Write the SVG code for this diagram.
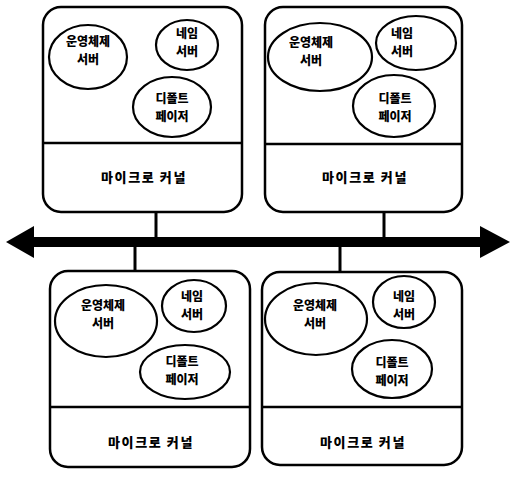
<svg xmlns="http://www.w3.org/2000/svg" width="512" height="477" viewBox="0 0 512 477">
<style>
.box{fill:none;stroke:#000;stroke-width:2.5}
.div{stroke:#000;stroke-width:2.5}
.el{fill:none;stroke:#000;stroke-width:2.2}
.t{font-family:"Noto Sans CJK KR","Noto Sans",sans-serif;font-size:12px;font-weight:900;text-anchor:middle;fill:#000}
.k{font-size:13px;letter-spacing:1.6px}
.c{stroke:#000;stroke-width:3;fill:none}
</style>
<rect width="512" height="477" fill="#fff"/>
<g id="connectors">
<line class="c" x1="156" y1="212" x2="156" y2="238"/>
<line class="c" x1="384" y1="212" x2="384" y2="238"/>
<line class="c" x1="135" y1="246" x2="135" y2="271"/>
<line class="c" x1="340" y1="246" x2="340" y2="272"/>
<line x1="30" y1="242" x2="482" y2="242" stroke="#000" stroke-width="10"/>
<polygon points="6,242 34,226 34,258" fill="#000"/>
<polygon points="510,242 480,226 480,258" fill="#000"/>
</g>
<g id="node-top-left">
<rect class="box" x="43" y="7" width="199" height="205" rx="18"/>
<line class="div" x1="43" y1="143" x2="242" y2="143"/>
<ellipse class="el" cx="88" cy="57" rx="39" ry="32"/>
<ellipse class="el" cx="187" cy="45" rx="31" ry="25"/>
<ellipse class="el" cx="172" cy="107" rx="39" ry="30"/>
<text class="t" x="88" y="46">운영체제</text>
<text class="t" x="88" y="64">서버</text>
<text class="t" x="187" y="38">네임</text>
<text class="t" x="187" y="56">서버</text>
<text class="t" x="172" y="103">디폴트</text>
<text class="t" x="172" y="121">페이저</text>
<text class="t k" x="144" y="182">마이크로 커널</text>
</g>
<g id="node-top-right">
<rect class="box" x="265" y="7" width="197" height="205" rx="18"/>
<line class="div" x1="265" y1="144" x2="462" y2="144"/>
<ellipse class="el" cx="320" cy="57" rx="52" ry="34"/>
<ellipse class="el" cx="416" cy="43" rx="40" ry="27"/>
<ellipse class="el" cx="394" cy="106" rx="41" ry="31"/>
<text class="t" x="311" y="47">운영체제</text>
<text class="t" x="311" y="65">서버</text>
<text class="t" x="402" y="38">네임</text>
<text class="t" x="402" y="56">서버</text>
<text class="t" x="395" y="103">디폴트</text>
<text class="t" x="395" y="121">페이저</text>
<text class="t k" x="365" y="182">마이크로 커널</text>
</g>
<g id="node-bottom-left">
<rect class="box" x="50" y="271" width="200" height="196" rx="18"/>
<line class="div" x1="50" y1="407" x2="250" y2="407"/>
<ellipse class="el" cx="106" cy="321" rx="51" ry="36"/>
<ellipse class="el" cx="194" cy="306" rx="32" ry="26"/>
<ellipse class="el" cx="185" cy="372" rx="45" ry="27"/>
<text class="t" x="103" y="310">운영체제</text>
<text class="t" x="103" y="328">서버</text>
<text class="t" x="192" y="301">네임</text>
<text class="t" x="192" y="319">서버</text>
<text class="t" x="182" y="366">디폴트</text>
<text class="t" x="182" y="384">페이저</text>
<text class="t k" x="151" y="447">마이크로 커널</text>
</g>
<g id="node-bottom-right">
<rect class="box" x="262" y="272" width="200" height="193" rx="18"/>
<line class="div" x1="262" y1="407" x2="462" y2="407"/>
<ellipse class="el" cx="316" cy="319" rx="51" ry="36"/>
<ellipse class="el" cx="404" cy="302" rx="31" ry="26"/>
<ellipse class="el" cx="392" cy="369" rx="40" ry="29"/>
<text class="t" x="315" y="310">운영체제</text>
<text class="t" x="315" y="328">서버</text>
<text class="t" x="404" y="301">네임</text>
<text class="t" x="404" y="319">서버</text>
<text class="t" x="392" y="367">디폴트</text>
<text class="t" x="392" y="385">페이저</text>
<text class="t k" x="363" y="447">마이크로 커널</text>
</g>
</svg>
